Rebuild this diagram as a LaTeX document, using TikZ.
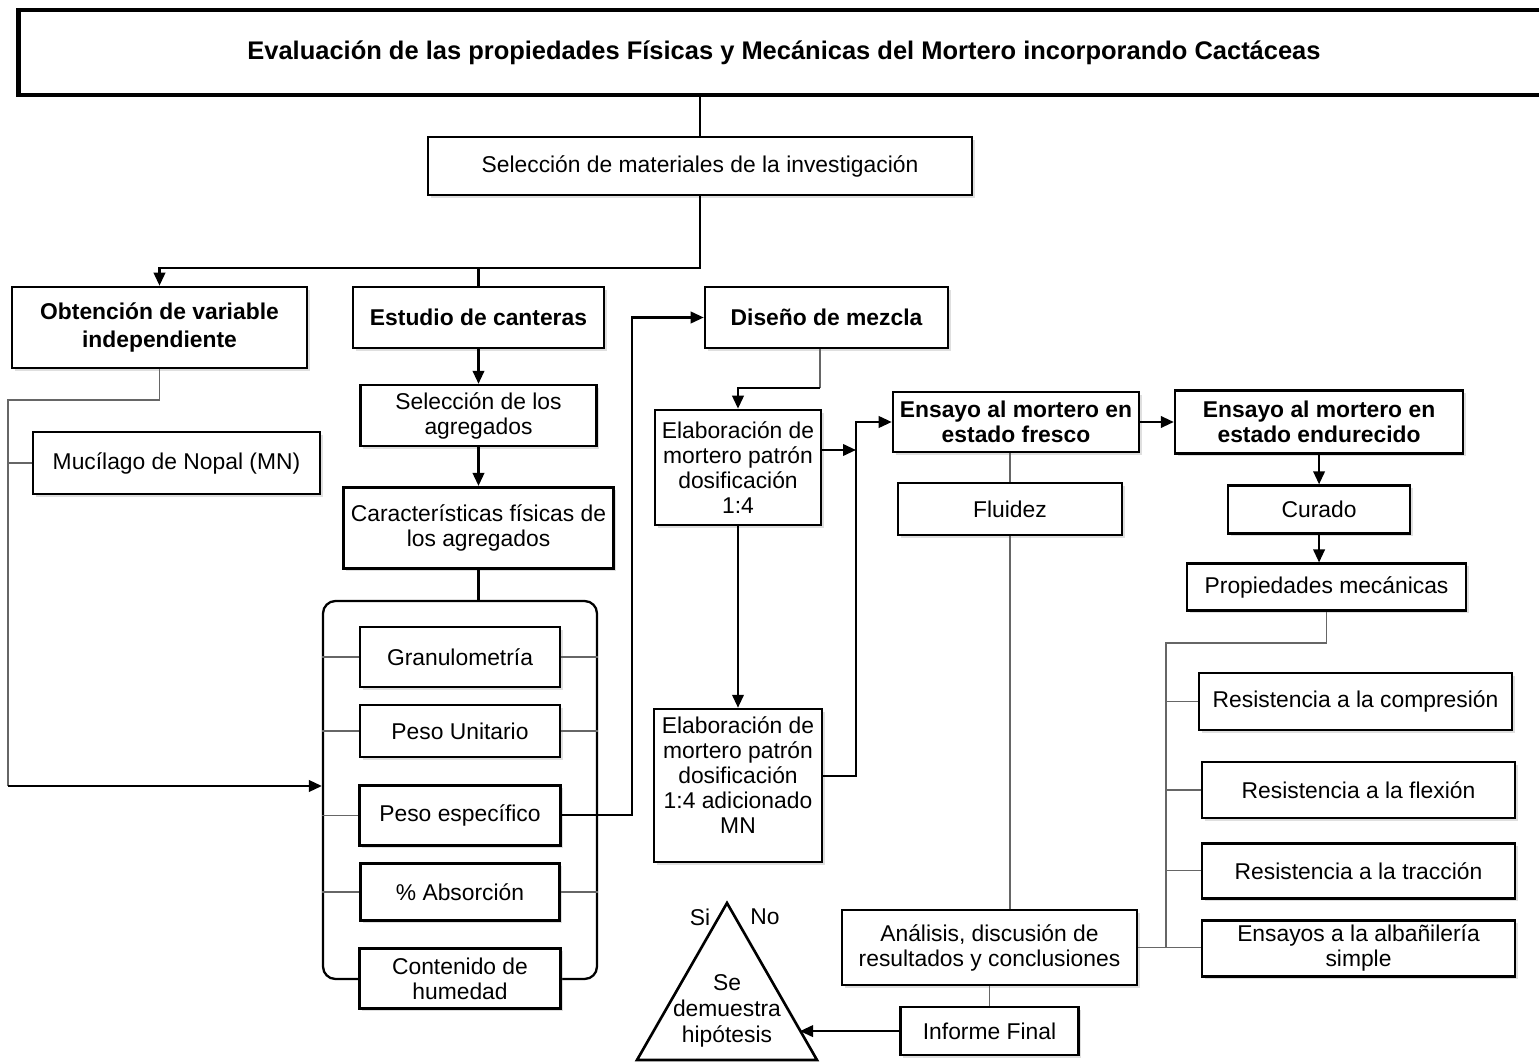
\documentclass[tikz,border=0pt]{standalone}
\usepackage{fontspec}
\setmainfont{Liberation Sans}
\usepackage{tikz}
\usetikzlibrary{arrows.meta,shadows,positioning}
\tikzstyle{caja}=[rectangle,draw=black,line width=1.5pt,fill=white,inner sep=1pt,align=center,font=\fontsize{13}{14.2}\selectfont,drop shadow={shadow xshift=1.5pt,shadow yshift=-1.5pt,opacity=0.25}]
\tikzstyle{cajan}=[caja,font=\fontsize{13}{14.2}\selectfont\bfseries]
\tikzstyle{titulo}=[rectangle,draw=black,line width=2.8pt,fill=white,inner sep=1pt,font=\fontsize{14.5}{16}\selectfont\bfseries]
\tikzstyle{flecha}=[-{Triangle[length=2.6mm,width=2.3mm]},line width=1.3pt]
\tikzstyle{grueso}=[line width=1.3pt]
\tikzstyle{linea}=[draw=black!60,line width=0.8pt]

\begin{document}
\begin{tikzpicture}[x=0.02cm,y=-0.02cm]
    \useasboundingbox (0,0) rectangle (1539,1064);

    % Nodos
    \node[titulo, minimum width=30.64cm, minimum height=1.7cm] (tit) at (784,52.5) {Evaluación de las propiedades Físicas y Mecánicas del Mortero incorporando Cactáceas};
    \node[caja, minimum width=10.88cm, minimum height=1.16cm] (sel) at (700,166) {Selección de materiales de la investigación};
    \node[cajan, font=\fontsize{13}{16}\selectfont\bfseries, minimum width=5.9cm, minimum height=1.62cm] (obt) at (159.5,327.5) {Obtención de variable\\independiente};
    \node[cajan, minimum width=5.02cm, minimum height=1.22cm] (est) at (478.5,317.5) {Estudio de canteras};
    \node[cajan, minimum width=4.86cm, minimum height=1.22cm] (dis) at (826.5,317.5) {Diseño de mezcla};
    \node[caja, minimum width=5.74cm, minimum height=1.24cm] (muc) at (176.5,463) {Mucílago de Nopal (MN)};
    \node[caja, minimum width=4.72cm, minimum height=1.22cm] (selag) [below=0.69cm of est] {Selección de los\\agregados};
    \node[caja, minimum width=5.4cm, minimum height=1.62cm] (car) [below=0.77cm of selag] {Características físicas de\\los agregados};

    % Corchete de ensayos a los agregados
    \node[draw, line width=1.3pt, rounded corners=7pt, minimum width=5.48cm, minimum height=7.56cm] (corchete) at (460,790) {};
    \node[caja, minimum width=4cm, minimum height=1.2cm] (gra) at (460,657) {Granulometría};
    \node[caja, minimum width=4cm, minimum height=1.04cm] (pu) [below=0.31cm of gra] {Peso Unitario};
    \node[caja, minimum width=4.02cm, minimum height=1.2cm] (pe) [below=0.51cm of pu] {Peso específico};
    \node[caja, minimum width=3.98cm, minimum height=1.14cm] (abs) [below=0.31cm of pe] {\% Absorción};
    \node[caja, minimum width=4.02cm, minimum height=1.2cm] (con) [below=0.51cm of abs] {Contenido de\\humedad};

    % Diseño y ensayos
    \node[caja, minimum width=3.32cm, minimum height=2.3cm] (el1) at (738,467.5) {Elaboración de\\mortero patrón\\dosificación\\1:4};
    \node[caja, minimum width=3.36cm, minimum height=3.06cm] (el2) [below=3.63cm of el1] {Elaboración de\\mortero patrón\\dosificación\\1:4 adicionado\\MN\\[-2pt]\mbox{}};
    \node[cajan, minimum width=4.92cm, minimum height=1.2cm] (fre) at (1016,422) {Ensayo al mortero en\\estado fresco};
    \node[cajan, minimum width=5.76cm, minimum height=1.26cm] (end) [right=0.67cm of fre] {Ensayo al mortero en\\estado endurecido};
    \node[caja, minimum width=4.48cm, minimum height=1.04cm] (flu) [below=0.57cm of fre, xshift=-0.12cm] {Fluidez};
    \node[caja, minimum width=3.64cm, minimum height=0.96cm] (cur) [below=0.59cm of end] {Curado};
    \node[caja, minimum width=5.58cm, minimum height=0.94cm] (pro) [below=0.55cm of cur, xshift=0.15cm] {Propiedades mecánicas};
    \node[caja, minimum width=6.26cm, minimum height=1.14cm] (rc) at (1355.5,701.5) {Resistencia a la compresión};
    \node[caja, minimum width=6.26cm, minimum height=1.12cm] (rf) [below=0.59cm of rc, xshift=0.06cm] {Resistencia a la flexión};
    \node[caja, minimum width=6.26cm, minimum height=1.1cm] (rt) [below=0.45cm of rf] {Resistencia a la tracción};
    \node[caja, minimum width=6.26cm, minimum height=1.12cm] (ea) [below=0.39cm of rt] {Ensayos a la albañilería\\simple};
    \node[caja, minimum width=5.9cm, minimum height=1.5cm] (ana) at (989.5,947.5) {Análisis, discusión de\\resultados y conclusiones};
    \node[caja, minimum width=3.56cm, minimum height=0.96cm] (inf) [below=0.39cm of ana] {Informe Final};

    % Hipotesis
    \draw[line width=1.5pt, line join=miter] (727,903) -- (817,1060) -- (637,1060) -- cycle;
    \node[align=center, font=\fontsize{13}{14.7}\selectfont] (hip) at (727,1011) {Se\\demuestra\\hipótesis};
    \node[font=\fontsize{13}{14.2}\selectfont] (si) at (700,917) {Si};
    \node[font=\fontsize{13}{14.2}\selectfont] (no) at (765,917) {No};

    % Conexiones
    \coordinate (r1) at (700,268);
    \coordinate (c1) at (8,400);
    \coordinate (c2) at (8,786);
    \coordinate (c3) at (632,0);
    \coordinate (c4) at (820,388);
    \coordinate (c5) at (856,450);
    \coordinate (c6) at (856,776);
    \coordinate (c7) at (1166,643);
    \coordinate (lado) at (800,1031);

    \draw[grueso] (sel.north |- tit.south) -- (sel.north);
    \draw[flecha] (sel.south) -- (r1) -| (obt.north);
    \draw[grueso] (r1 -| est.north) -- (est.north);
    \draw[linea] (obt.south) -- (obt.south |- c1) -- (c1) -- (c2);
    \draw[linea] (c1 |- muc.west) -- (muc.west);
    \draw[flecha] (c2) -- (c2 -| corchete.west);
    \draw[flecha] (est.south) -- (selag.north);
    \draw[flecha] (selag.south) -- (car.north);
    \draw[grueso] (car.south) -- (car.south |- corchete.north);

    \draw[linea] (gra.west -| corchete.west) -- (gra.west);
    \draw[linea] (gra.east) -- (gra.east -| corchete.east);
    \draw[linea] (pu.west -| corchete.west) -- (pu.west);
    \draw[linea] (pu.east) -- (pu.east -| corchete.east);
    \draw[linea] (pe.west -| corchete.west) -- (pe.west);
    \draw[linea] (abs.west -| corchete.west) -- (abs.west);
    \draw[linea] (abs.east) -- (abs.east -| corchete.east);

    \draw[flecha] (pe.east) -| (c3 |- dis.west) -- (dis.west);
    \draw[linea] (c4 |- dis.south) -- (c4);
    \draw[flecha] (c4) -| (el1.north);
    \draw[flecha] (el1.south) -- (el2.north);
    \draw[flecha] (el1.east |- c5) -- (c5);
    \draw[flecha] (el2.east |- c6) -- (c6) |- (fre.west);
    \draw[flecha] (fre.east) -- (fre.east -| end.west);

    \draw[linea] (fre.south -| flu.north) -- (flu.north);
    \draw[linea] (flu.south) -- (flu.south |- ana.north);
    \draw[linea] (ana.south) -- (inf.north);
    \draw[flecha] (inf.west) -- (inf.west -| lado);

    \draw[flecha] (end.south) -- (cur.north);
    \draw[flecha] (cur.south) -- (cur.south |- pro.north);
    \draw[linea] (pro.south) -- (pro.south |- c7) -- (c7) -- (c7 |- ana.east);
    \draw[linea] (c7 |- rc.west) -- (rc.west);
    \draw[linea] (c7 |- rf.west) -- (rf.west);
    \draw[linea] (c7 |- rt.west) -- (rt.west);
    \draw[linea] (ana.east) -- (ana.east -| ea.west);

\end{tikzpicture}
\end{document}
